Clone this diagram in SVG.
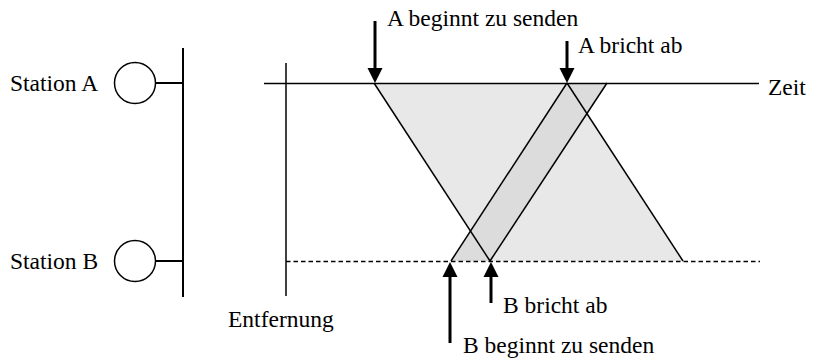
<svg xmlns="http://www.w3.org/2000/svg" width="813" height="359" viewBox="0 0 813 359">
<style>
text{font-family:"Liberation Serif","Times New Roman",serif;font-size:23.5px;fill:#000}
.ln{stroke:#000;stroke-width:1.5;fill:none}
.bus{stroke:#000;stroke-width:2;fill:none}
.st{stroke:#000;stroke-width:1.5;fill:#fff}
.sh{stroke:#000;stroke-width:3}
.hd{fill:#000}
</style>
<rect width="813" height="359" fill="#fff"/>
<g id="fills">
<polygon points="374,83 567,83 683,261 490,261" fill="#e8e8e8"/>
<polygon points="451,261 490,261 607,83 567,83" fill="#dcdcdc"/>
</g>
<g id="stationA">
<circle class="st" cx="135" cy="83" r="20.5"/>
<line class="bus" x1="155.5" y1="83" x2="183" y2="83"/>
<text x="10" y="91">Station A</text>
</g>
<g id="stationB">
<circle class="st" cx="135" cy="261" r="20.5"/>
<line class="bus" x1="155.5" y1="261" x2="183" y2="261"/>
<text x="10" y="269">Station B</text>
</g>
<g id="bus">
<line class="bus" x1="183" y1="48" x2="183" y2="297"/>
</g>
<g id="axes">
<line class="ln" x1="264" y1="83.5" x2="759" y2="83.5"/>
<line class="ln" x1="286" y1="63" x2="286" y2="296"/>
<line class="ln" x1="286" y1="261.5" x2="760" y2="261.5" stroke-dasharray="4.5,3"/>
<text x="768" y="95">Zeit</text>
<text x="228" y="327">Entfernung</text>
</g>
<g id="connectors">
<line class="ln" x1="374" y1="83" x2="490" y2="261"/>
<line class="ln" x1="567" y1="83" x2="683" y2="261"/>
<line class="ln" x1="451" y1="261" x2="567" y2="83"/>
<line class="ln" x1="490" y1="261" x2="607" y2="83"/>
</g>
<g id="arrowA1">
<line class="sh" x1="375" y1="21" x2="375" y2="70"/>
<polygon class="hd" points="367.5,68 382.5,68 375,83"/>
<text x="387" y="26">A beginnt zu senden</text>
</g>
<g id="arrowA2">
<line class="sh" x1="567" y1="41" x2="567" y2="70"/>
<polygon class="hd" points="559.5,68 574.5,68 567,83"/>
<text x="578" y="53">A bricht ab</text>
</g>
<g id="arrowB1">
<line class="sh" x1="450" y1="343" x2="450" y2="275"/>
<polygon class="hd" points="442.5,277 457.5,277 450,262"/>
<text x="463" y="353">B beginnt zu senden</text>
</g>
<g id="arrowB2">
<line class="sh" x1="491" y1="303" x2="491" y2="275"/>
<polygon class="hd" points="483.5,277 498.5,277 491,262"/>
<text x="503" y="313">B bricht ab</text>
</g>
</svg>
